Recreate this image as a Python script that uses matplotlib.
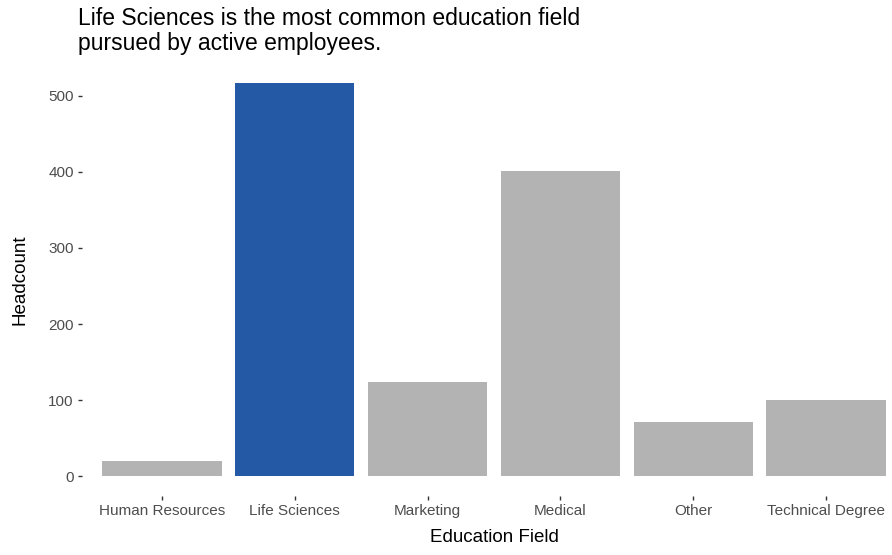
import matplotlib.pyplot as plt
import numpy as np

plt.rcParams['font.family'] = ['Liberation Sans', 'DejaVu Sans']

# data
fields = ['Human Resources', 'Life Sciences', 'Marketing', 'Medical', 'Other', 'Technical Degree']
headcount = [20, 517, 124, 401, 71, 100]
highlight = 'Life Sciences'

colors = ['#2459A6' if f == highlight else '#B3B3B3' for f in fields]

fig = plt.figure(figsize=(8.92, 5.55), dpi=100)
ax = fig.add_axes([0.0919, 0.1063, 0.9081, 0.7802])

x = np.arange(len(fields))
ax.bar(x, headcount, width=0.9, color=colors)

ax.set_xlim(-0.6, 5.495)
ax.set_ylim(-0.05 * max(headcount), 1.05 * max(headcount))
ax.set_xticks(x)
ax.set_xticklabels(fields)
ax.set_yticks([0, 100, 200, 300, 400, 500])

for s in ax.spines.values():
    s.set_visible(False)
ax.tick_params(axis='both', length=3, width=1, color='#333333', labelcolor='#4D4D4D',
               labelsize=11, pad=3)

ax.set_xlabel('Education Field', fontsize=13.5, color='black', labelpad=8)
ax.xaxis.label.set_x(0.509)
ax.set_ylabel('Headcount', fontsize=13.5, color='black', labelpad=14)

# title aligned with the panel, like ggplot
fig.text(0.088, 0.987, 'Life Sciences is the most common education field\npursued by active employees.',
         fontsize=16.5, va='top', ha='left', linespacing=1.09)

fig.savefig('out.png', dpi=100)
